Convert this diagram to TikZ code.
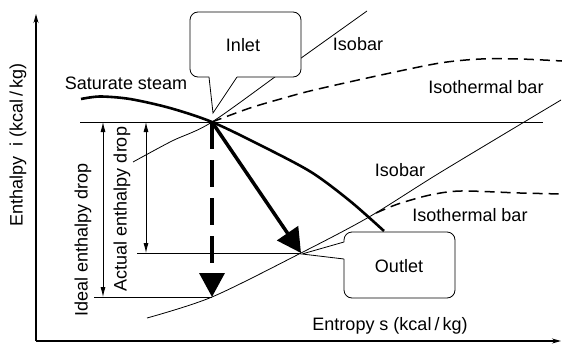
\documentclass[tikz,border=0pt]{standalone}
\usepackage{fontspec}
\setmainfont{Liberation Sans}
\usetikzlibrary{arrows.meta}

\begin{document}
\begin{tikzpicture}[x=1pt,y=-1pt]
  \tikzstyle{ln} = [line width=0.8pt]
  \tikzstyle{lbl} = [font=\fontsize{18}{21}\selectfont, inner sep=0pt]
  \tikzstyle{ax} = [line width=1.2pt, -{Stealth[length=9pt,width=5pt]}]
  \tikzstyle{dim} = [line width=0.8pt, {Latex[length=10pt,width=5pt]}-{Latex[length=10pt,width=5pt]}]
  \tikzstyle{sat} = [line width=2.6pt]
  \tikzstyle{iso} = [line width=1.5pt, dash pattern=on 10pt off 6pt]
  \tikzstyle{bigarrow} = [line width=3.5pt, -{Triangle[length=24pt,width=25pt]}]
  \tikzstyle{callout} = [line width=0.8pt, rounded corners=8pt, fill=white]
  \useasboundingbox (0,0) rectangle (562,343);

  \coordinate (o) at (36,341);
  \coordinate (ytop) at (36,14);
  \coordinate (xend) at (561,341);
  \coordinate (in) at (212,122);
  \coordinate (out) at (301,253);
  \coordinate (ideal) at (212,297);
  \coordinate (hl) at (80,122);
  \coordinate (hr) at (543,122);
  \coordinate (al) at (137,253);
  \coordinate (il) at (94,297);
  \coordinate (ia) at (103,122);
  \coordinate (ib) at (103,297);
  \coordinate (aa) at (146,122);
  \coordinate (ab) at (146,253);

  % axes
  \draw[ax](o)--(ytop);
  \draw[ax](o)--(xend);
  \node[lbl, rotate=90](ylab) at (18,145){Enthalpy\ \ i (kcal\,/\,kg)};
  \node[lbl](xlab) at (390,326){Entropy s (kcal\,/\,kg)};

  % levels and drops
  \draw[ln](hl)--(hr);
  \draw[ln](al)--(out);
  \draw[ln](il)--(ideal);
  \draw[dim](ia)--(ib);
  \draw[dim](aa)--(ab);
  \node[lbl, rotate=90](idl) at (83,240){Ideal enthalpy drop};
  \node[lbl, rotate=90](act) at (122,209){Actual enthalpy drop};

  % curves
  \draw[sat] plot[smooth] coordinates {(81,99) (100,96.5) (130,99) (170,108) (212,122) (260,145) (311,172) (350,201) (384,231)};
  \draw[ln] plot[smooth] coordinates {(133,162) (172,141) (212,122) (290,66) (367,11)};
  \draw[iso] plot[smooth] coordinates {(212,122) (250,108) (284,98) (314,90) (381,75) (440,63) (481,59) (520,59) (562,61)};
  \draw[ln] plot[smooth] coordinates {(147,318) (212,297) (301,253) (369,217) (441,172) (561,100)};
  \draw[iso] plot[smooth] coordinates {(376,213) (398,204) (430,195) (461,191) (520,193) (562,194)};
  \node[lbl](sst) at (126,83){Saturate steam};
  \node[lbl](isob1) at (358,44){Isobar};
  \node[lbl](isot1) at (486,87){Isothermal bar};
  \node[lbl](isob2) at (400,170){Isobar};
  \node[lbl](isot2) at (470,215){Isothermal bar};

  % expansion
  \draw[bigarrow, dash pattern=on 27pt off 11pt](in)--(ideal);
  \draw[bigarrow](in)--(out);

  % callouts
  \draw[callout](209,77)--(190,77)--(190,12)--(301,12)--(301,77)--(237,77);
  \draw[ln, fill=white](209,77)--(213,113)--(237,77);
  \node[lbl](inlet) at (243,45){Inlet};
  \draw[callout](344,242)--(344,232)--(455,232)--(455,298)--(344,298)--(344,259);
  \draw[ln, fill=white](344,242)--(302,254)--(344,259);
  \node[lbl](outlet) at (399,266){Outlet};

  \end{tikzpicture}
\end{document}
